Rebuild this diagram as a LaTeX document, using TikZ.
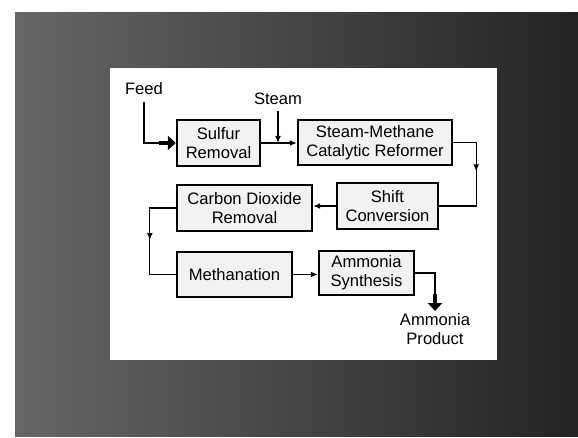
\documentclass[tikz,border=0pt]{standalone}
\usepackage{fontspec}
\setmainfont{Liberation Sans}
\usetikzlibrary{arrows.meta,decorations.markings}
\begin{document}
\begin{tikzpicture}[x=1pt,y=-1pt,
  unit/.style={draw, line width=2.4pt, fill=black!5, align=center, inner sep=0pt,
    font=\fontsize{16.6}{19}\selectfont},
  tag/.style={align=center, inner sep=2pt, font=\fontsize{16.6}{19}\selectfont},
  pipe/.style={line width=1.3pt},
  flow/.style={pipe, -{Latex[length=7pt,width=6pt]}},
  midflow/.style={pipe, postaction={decorate},
    decoration={markings, mark=at position #1 with {\arrow{Latex[length=7pt,width=6pt]}}}},
  bigflow/.style={line width=4.5pt, -{Triangle[length=8pt,width=14pt]}},
]
\useasboundingbox (0,0) rectangle (578,438);
% page, dark mount and white panel
\fill[white] (0,0) rectangle (578,438);
\shade[left color=black!60, right color=black!86] (15,13) rectangle (578,436);
\fill[white] (110,68) rectangle (497,360);

% process units
\node[unit, minimum width=83, minimum height=46] (sulfur) at (218.5,143) {Sulfur\\Removal};
\node[unit, minimum width=154, minimum height=45] (smr) at (375,142.5) {Steam-Methane\\Catalytic Reformer};
\node[unit, minimum width=135, minimum height=46] (co2) at (244.5,208) {Carbon Dioxide\\Removal};
\node[unit, minimum width=101, minimum height=46] (shift) at (387.5,206) {Shift\\Conversion};
\node[unit, minimum width=115, minimum height=45] (meth) at (234.5,274.5) {Methanation};
\node[unit, minimum width=95, minimum height=44] (amm) at (366.5,273) {Ammonia\\Synthesis};

% stream labels
\node[tag] (feed) at (144,89) {Feed};
\node[tag] (steam) at (278,99) {Steam};
\node[tag, anchor=north] (prod) at (435,311) {Ammonia\\Product};

% feed inlet
\coordinate (feedbend) at (feed.south |- sulfur.west);
\draw[pipe, shorten <=5pt] (feed.south) -- (feedbend) -- ([xshift=-16pt]sulfur.west);
\draw[bigflow] ([xshift=-17pt]sulfur.west) -- (sulfur.west);

% main line
\draw[flow] (sulfur.east) -- (sulfur.east -| smr.west);
\draw[flow, shorten <=4pt] (steam.south) -- (steam.south |- sulfur.east);
\draw[midflow=0.42] (smr.east) -- ++(23,0) |- (shift.east);
\draw[flow] (shift.west) -- (shift.west -| co2.east);
\draw[midflow=0.49] (co2.west) -- ++(-26,0) |- (meth.west);
\draw[flow] (meth.east) -- (meth.east -| amm.west);

% product outlet
\coordinate (outbend) at (prod.north |- amm.east);
\draw[pipe] (amm.east) -- (outbend) -- ([yshift=16pt]prod.north);
\draw[bigflow] ([yshift=17pt]prod.north) -- (prod.north);
\end{tikzpicture}
\end{document}
